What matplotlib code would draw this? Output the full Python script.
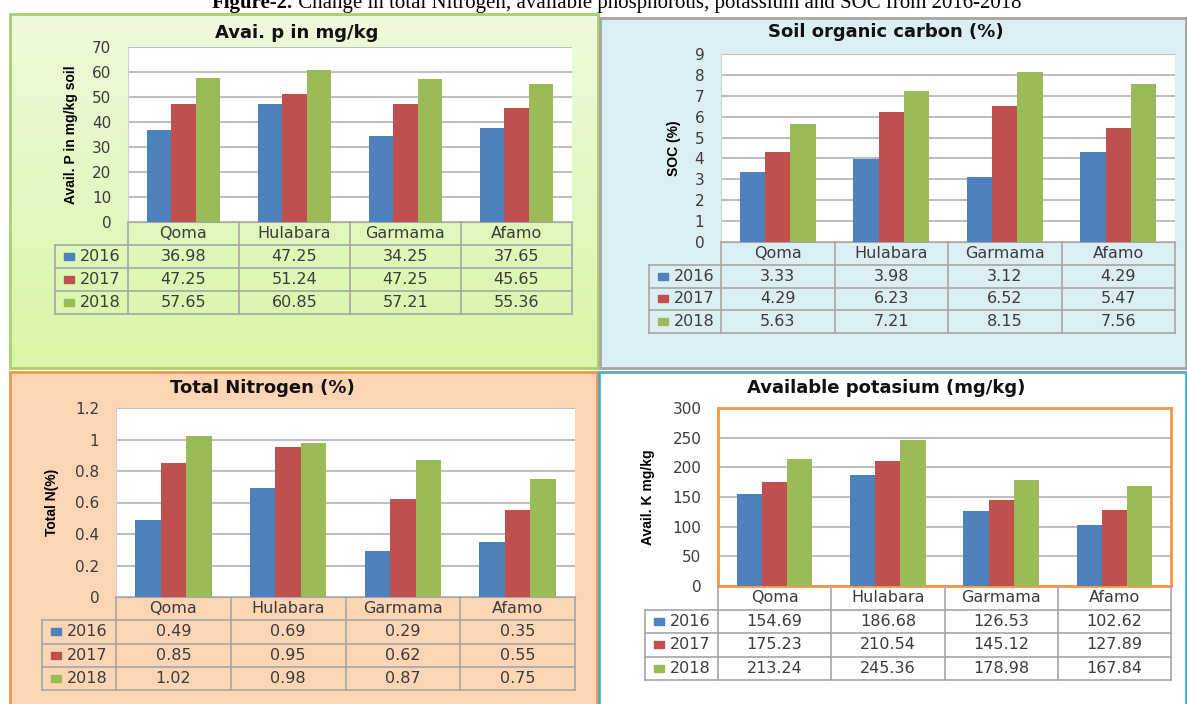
import numpy as np
import matplotlib.pyplot as plt
from matplotlib.patches import Rectangle
from matplotlib.colors import LinearSegmentedColormap

# data
sites = ['Qoma', 'Hulabara', 'Garmama', 'Afamo']
years = ['2016', '2017', '2018']

avail_p = [[36.98, 47.25, 34.25, 37.65],
           [47.25, 51.24, 47.25, 45.65],
           [57.65, 60.85, 57.21, 55.36]]
soc = [[3.33, 3.98, 3.12, 4.29],
       [4.29, 6.23, 6.52, 5.47],
       [5.63, 7.21, 8.15, 7.56]]
total_n = [[0.49, 0.69, 0.29, 0.35],
           [0.85, 0.95, 0.62, 0.55],
           [1.02, 0.98, 0.87, 0.75]]
avail_k = [[154.69, 186.68, 126.53, 102.62],
           [175.23, 210.54, 145.12, 127.89],
           [213.24, 245.36, 178.98, 167.84]]

year_colors = ['#4f81bd', '#c0504d', '#9bbb59']
txt_col = '#3c3c3c'
line_col = '#a6a6a6'

W, H = 1187, 704
fig = plt.figure(figsize=(W / 100, H / 100), dpi=100)
fig.patch.set_facecolor('white')


def box(x0, y0, x1, y1):
    # pixel box (top-left origin) -> figure fraction rect
    return [x0 / W, 1 - y1 / H, (x1 - x0) / W, (y1 - y0) / H]


def panel(frame, face, edge, plot, rowh, leg_left, title, title_xy,
          ylabel, ylabel_x, values, ymax, ystep, plot_edge=None):
    x0, y0, x1, y1 = frame
    if face == 'gradient':
        bg = fig.add_axes(box(*frame))
        cmap = LinearSegmentedColormap.from_list('g', ['#eefadc', '#d8f6a8'])
        bg.imshow(np.linspace(0, 1, 100).reshape(-1, 1), aspect='auto',
                  cmap=cmap, extent=[0, 1, 0, 1])
        bg.set_axis_off()
        bg.set_zorder(-1)
    else:
        fig.add_artist(Rectangle((x0 / W, 1 - y1 / H), (x1 - x0) / W, (y1 - y0) / H,
                                 transform=fig.transFigure, facecolor=face,
                                 edgecolor='none', zorder=-3))
    fig.add_artist(Rectangle((x0 / W, 1 - y1 / H), (x1 - x0) / W, (y1 - y0) / H,
                             transform=fig.transFigure, facecolor='none',
                             edgecolor=edge, lw=2, zorder=5))

    ax = fig.add_axes(box(*plot))
    ax.set_facecolor('white')
    x = np.arange(len(sites))
    bw = 0.222
    for i, vals in enumerate(values):
        ax.bar(x + (i - 1) * bw, vals, bw, color=year_colors[i], zorder=3)
    ax.set_xlim(-0.5, 3.5)
    ax.set_ylim(0, ymax)
    ticks = np.round(np.arange(0, ymax + ystep / 2, ystep), 3)
    ax.set_yticks(ticks)
    ax.set_yticklabels(['%g' % t for t in ticks])
    ax.set_xticks([])
    ax.grid(axis='y', color='#bfbfbf', lw=1.5, zorder=0)
    ax.tick_params(length=0, pad=12, labelsize=11, labelcolor=txt_col)
    if plot_edge:
        for s in ax.spines.values():
            s.set_color(plot_edge)
            s.set_linewidth(2)
    else:
        ax.spines['top'].set_visible(False)
        ax.spines['right'].set_visible(False)
        ax.spines['left'].set_color('#d0d0d0')
        ax.spines['bottom'].set_color(line_col)

    fig.text(title_xy[0] / W, 1 - title_xy[1] / H, title, ha='center', va='center',
             fontsize=13, fontweight='bold', color='#111111')
    fig.text(ylabel_x / W, 1 - (plot[1] + plot[3]) / 2 / H, ylabel, rotation=90,
             ha='center', va='center', fontsize=10, fontweight='bold',
             family=['Liberation Sans Narrow', 'Liberation Sans'])

    # data table under the plot
    tab = fig.add_axes(box(leg_left, plot[3], plot[2], plot[3] + 4 * rowh))
    cw = (plot[2] - plot[0]) / 4
    lw_ = (plot[0] - leg_left) / cw
    left = -0.5 - lw_
    tab.set_xlim(left, 3.5)
    tab.set_ylim(4, 0)
    tab.set_axis_off()
    kw = dict(color=line_col, lw=1.2, clip_on=False)
    for xv in np.arange(-0.5, 4, 1):
        tab.plot([xv, xv], [0, 4], **kw)
    tab.plot([left, left], [1, 4], **kw)
    for yv in range(1, 5):
        tab.plot([left, 3.5], [yv, yv], **kw)
    for j, s in enumerate(sites):
        tab.text(j, 0.5, s, ha='center', va='center', fontsize=11.5, color=txt_col)
    sw, sh = 10 / cw, 7 / rowh
    for i, vals in enumerate(values):
        tab.add_patch(Rectangle((left + 0.19 * lw_ - sw / 2, i + 1.5 - sh / 2), sw, sh,
                                color=year_colors[i], clip_on=False))
        tab.text(left + 0.34 * lw_, i + 1.5, years[i], ha='left', va='center',
                 fontsize=11.5, color=txt_col)
        for j, v in enumerate(vals):
            tab.text(j, i + 1.5, f'{v:.2f}', ha='center', va='center',
                     fontsize=11.5, color=txt_col)


panel((10, 14, 598, 368), 'gradient', '#a9cf6c', (128, 47, 572, 222), 23, 55,
      'Avai. p in mg/kg', (297, 33), 'Avail. P in mg/kg soil', 71, avail_p, 70, 10)
panel((600, 18, 1186, 368), '#dbeef4', '#a5a5a5', (721, 54, 1175, 242), 22.75, 649,
      'Soil organic carbon (%)', (886, 32), 'SOC (%)', 674, soc, 9, 1)
panel((10, 372, 597, 706), '#fcd5b5', '#f79646', (116, 408, 575, 597), 23.25, 42,
      'Total Nitrogen (%)', (262, 388), 'Total N(%)', 52, total_n, 1.2, 0.2)
panel((599, 372, 1186, 706), 'white', '#4bacc6', (718, 408, 1171, 586), 23.5, 645,
      'Available potasium (mg/kg)', (886, 388), 'Avail. K mg/kg', 648, avail_k, 300, 50,
      plot_edge='#f79646')

# figure caption, cut by the top edge as in the source
t1 = fig.text(212 / W, 1 - 8 / H, 'Figure-2.', ha='left', va='baseline',
              fontsize=15, fontweight='bold', family='Liberation Serif')
fig.add_artist(plt.Annotation(' Change in total Nitrogen, available phosphorous, potassium and SOC from 2016-2018',
                              xy=(1, 0), xycoords=t1, va='bottom', ha='left',
                              fontsize=15, family='Liberation Serif'))

fig.savefig('out.png', dpi=100)
